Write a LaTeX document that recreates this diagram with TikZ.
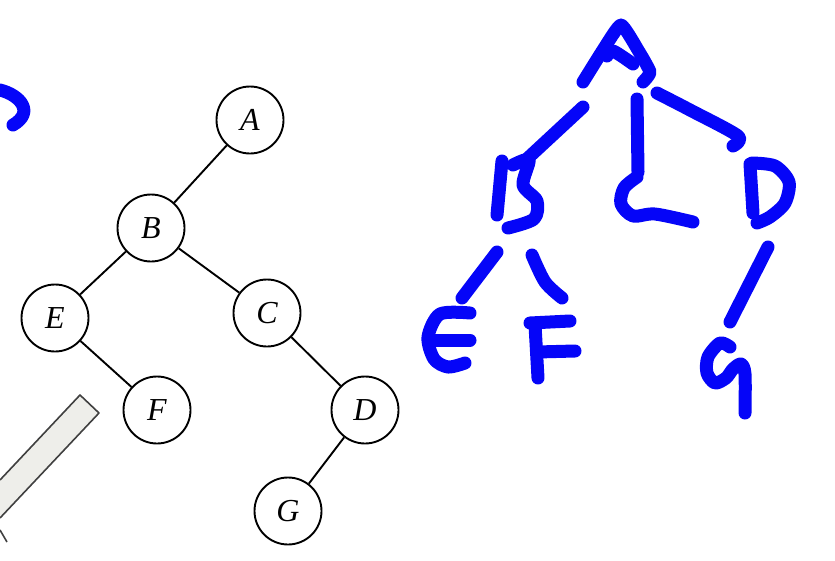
\documentclass[tikz,border=0pt]{standalone}
\usepackage{fontspec}
\setmainfont{Liberation Serif}
\definecolor{inkblue}{RGB}{5,5,248}
\definecolor{barfill}{RGB}{238,238,234}
\begin{document}
\begin{tikzpicture}[x=1pt,y=-1pt,
  vertex/.style={draw, circle, line width=1.9pt, minimum size=67pt, inner sep=0pt,
    font=\fontsize{32}{35}\selectfont\itshape},
  pen/.style={draw=inkblue, line width=13pt, line cap=round, line join=round}]
  \useasboundingbox (0,0) rectangle (835,560);
  % 书上的二叉树
  \node[vertex] (A) at (250,120) {A};
  \node[vertex] (B) at (151,228) {B};
  \node[vertex] (E) at (55,318) {E};
  \node[vertex] (C) at (267,313) {C};
  \node[vertex] (F) at (157,410) {F};
  \node[vertex] (D) at (365,410) {D};
  \node[vertex] (G) at (288,511) {G};
  \foreach \u/\v in {A/B, B/E, B/C, E/F, C/D, D/G} {
      \draw[line width=1.9pt] (\u) -- (\v);
  }
  % 左下角的灰色长条
  \fill[barfill] (80,395) -- (99,413) -- (0,518) -- (0,480) -- cycle;
  \draw[line width=1.6pt, draw=black!75, line join=round]
    (0,480) -- (80,395) -- (99,413) -- (0,518);
  \draw[line width=1.6pt, draw=black!75] (0,530) -- (7,542);
  % 左边缘的蓝色笔迹
  \draw[pen] (0,90) .. controls (20,95) and (35,112) .. (13,125);
  % 手写的树：字母 A
  \draw[pen] plot[smooth, tension=0.3] coordinates {(583,82) (603,50) (621,25) (638,50) (650,72) (643,82)};
  \draw[pen] plot[smooth] coordinates {(607,56) (613,51) (633,64)};
  % 连线
  \draw[pen] (583,107) -- (528,158);
  \draw[pen] (637,99) -- (638,172);
  \draw[pen] plot[smooth] coordinates {(657,93) (690,110) (738,136) (733,146)};
  % 字母 B, C, D
  \draw[pen] (502,161) -- (497,215);
  \draw[pen] plot[smooth, tension=0.5] coordinates {(513,165) (529,160) (523,185) (537,201) (534,219) (508,228)};
  \draw[pen] plot[smooth] coordinates {(637,177) (624,188) (621,204) (633,216) (655,214) (693,222)};
  \draw[pen] (750,164) -- (753,213);
  \draw[pen] plot[smooth] coordinates {(752,163) (775,166) (789,182) (785,203) (770,217) (757,223)};
  % 第三层连线
  \draw[pen] (497,252) -- (462,298);
  \draw[pen] plot[smooth] coordinates {(532,255) (545,282) (562,298)};
  \draw[pen] (768,247) -- (730,322);
  % 字母 E, F, G
  \draw[pen] plot[smooth, tension=0.5] coordinates {(470,313) (440,314) (428,337) (434,359) (448,367) (465,363)};
  \draw[pen] (431,340) -- (470,340);
  \draw[pen] (530,323) -- (570,321);
  \draw[pen] (535,325) -- (538,378);
  \draw[pen] (537,352) -- (575,351);
  \draw[pen] plot[smooth, tension=0.5] coordinates {(730,347) (720,343) (708,357) (707,373) (715,383) (726,378) (733,369) (741,364) (745,374) (745,413)};
\end{tikzpicture}
\end{document}
